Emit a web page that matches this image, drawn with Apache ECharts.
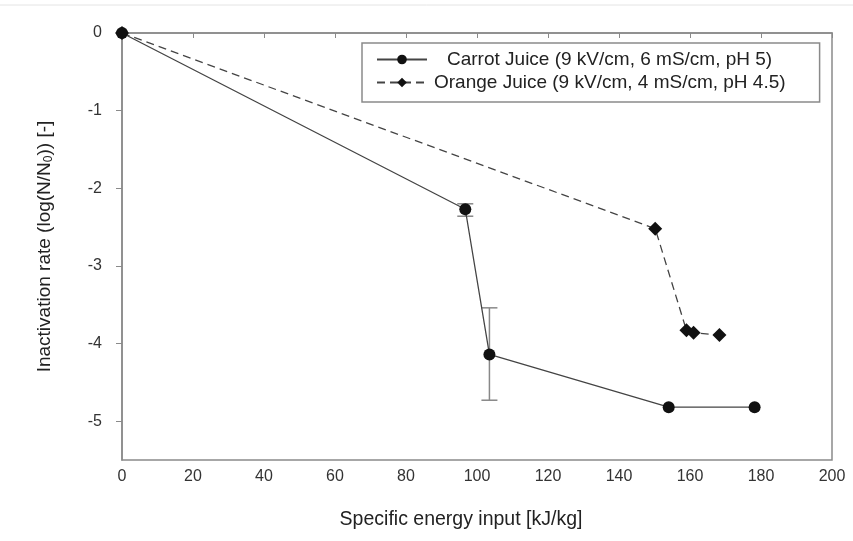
<!DOCTYPE html>
<html><head><meta charset="utf-8">
<script src="https://cdn.jsdelivr.net/npm/echarts@6/dist/echarts.min.js"></script>
<style>html,body{margin:0;padding:0;background:#fff}#c{width:853px;height:541px}</style>
</head><body><div id="c"></div>
<script>
const carrotX = [0, 96.7, 103.5, 154, 178.2];
const carrotY = [0, -2.27, -4.14, -4.82, -4.82];
const carrotErrLow = [null, -2.36, -4.73, null, null];
const carrotErrHigh = [null, -2.20, -3.54, null, null];
const orangeX = [0, 150.2, 159, 161, 168.3];
const orangeY = [0, -2.52, -3.83, -3.86, -3.89];
const xTicks = [0, 20, 40, 60, 80, 100, 120, 140, 160, 180, 200];
const yTicks = [0, -1, -2, -3, -4, -5];
const seriesNames = ['Carrot Juice (9 kV/cm, 6 mS/cm, pH 5)', 'Orange Juice (9 kV/cm, 4 mS/cm, pH 4.5)'];

const carrotData = carrotX.map((x, i) => [x, carrotY[i]]);
const orangeData = orangeX.map((x, i) => [x, orangeY[i]]);
const errData = [];
carrotX.forEach((x, i) => { if (carrotErrLow[i] !== null) errData.push([x, carrotErrLow[i], carrotErrHigh[i]]); });

const chart = echarts.init(document.getElementById('c'));
const font = 'Liberation Sans, Arial, sans-serif';
chart.setOption({
  animation: false,
  backgroundColor: '#fff',
  textStyle: { fontFamily: font },
  graphic: [{ type: 'line', shape: { x1: 0, y1: 5, x2: 853, y2: 5 }, style: { stroke: '#e4e4e4', lineWidth: 1 } }],
  grid: { left: 122, right: 21, top: 33, bottom: 81, show: true, borderColor: '#8a8a8a', borderWidth: 1.5 },
  legend: {
    orient: 'vertical', left: 362, top: 43, width: 480,
    borderColor: '#8a8a8a', borderWidth: 1.5, padding: [7, 34, 10, 14], itemGap: 4,
    itemWidth: 50, itemHeight: 12,
    formatter: function (name) { return name === seriesNames[0] ? '{i|' + name + '}' : name; },
    textStyle: { fontSize: 19, color: '#222', fontFamily: font, padding: [0, 0, 0, 2],
      rich: { i: { fontSize: 19, color: '#222', fontFamily: font, padding: [0, 0, 0, 13] } } },
    data: seriesNames
  },
  xAxis: {
    type: 'value', min: 0, max: 200, interval: 20,
    name: 'Specific energy input [kJ/kg]', nameLocation: 'middle', nameGap: 50,
    nameTextStyle: { fontSize: 19.5, color: '#222', padding: [0, 32, 0, 0] },
    axisLine: { lineStyle: { color: '#8a8a8a', width: 1.5 } },
    axisTick: { show: true, inside: false, length: 5, lineStyle: { color: '#8a8a8a' } },
    axisLabel: { fontSize: 16, color: '#333', margin: 9, customValues: xTicks },
    splitLine: { show: false }
  },
  yAxis: {
    type: 'value', min: -5.5, max: 0,
    name: '{a|Inactivation rate (log(N/N}{s|0}{a|)) [-]}', nameLocation: 'middle', nameGap: 67,
    nameTextStyle: { rich: { a: { fontSize: 19, color: '#222' }, s: { fontSize: 12, color: '#222', verticalAlign: 'bottom', padding: [8, 0, 0, 0] } } },
    axisLine: { show: true, lineStyle: { color: '#8a8a8a', width: 1.5 } },
    axisTick: { show: true, length: 6, lineStyle: { color: '#8a8a8a' }, customValues: yTicks },
    axisLabel: { fontSize: 16, color: '#333', margin: 20, customValues: yTicks },
    splitLine: { show: false }
  },
  series: [
    {
      name: seriesNames[0], type: 'line', data: carrotData,
      symbol: 'circle', symbolSize: 12,
      itemStyle: { color: '#111' },
      lineStyle: { color: '#444', width: 1.3, type: 'solid' },
      z: 3
    },
    {
      name: seriesNames[1], type: 'line', data: orangeData,
      symbol: 'diamond', symbolSize: 14,
      itemStyle: { color: '#111' },
      lineStyle: { color: '#444', width: 1.3, type: [8, 5] },
      z: 3
    },
    {
      type: 'custom', data: errData, z: 2,
      renderItem: function (params, api) {
        const x = api.value(0);
        const lo = api.coord([x, api.value(1)]);
        const hi = api.coord([x, api.value(2)]);
        const w = 8;
        const st = { stroke: '#888', lineWidth: 1.5 };
        return { type: 'group', children: [
          { type: 'line', shape: { x1: lo[0], y1: lo[1], x2: hi[0], y2: hi[1] }, style: st },
          { type: 'line', shape: { x1: lo[0] - w, y1: lo[1], x2: lo[0] + w, y2: lo[1] }, style: st },
          { type: 'line', shape: { x1: hi[0] - w, y1: hi[1], x2: hi[0] + w, y2: hi[1] }, style: st }
        ]};
      }
    }
  ]
});
</script></body></html>
